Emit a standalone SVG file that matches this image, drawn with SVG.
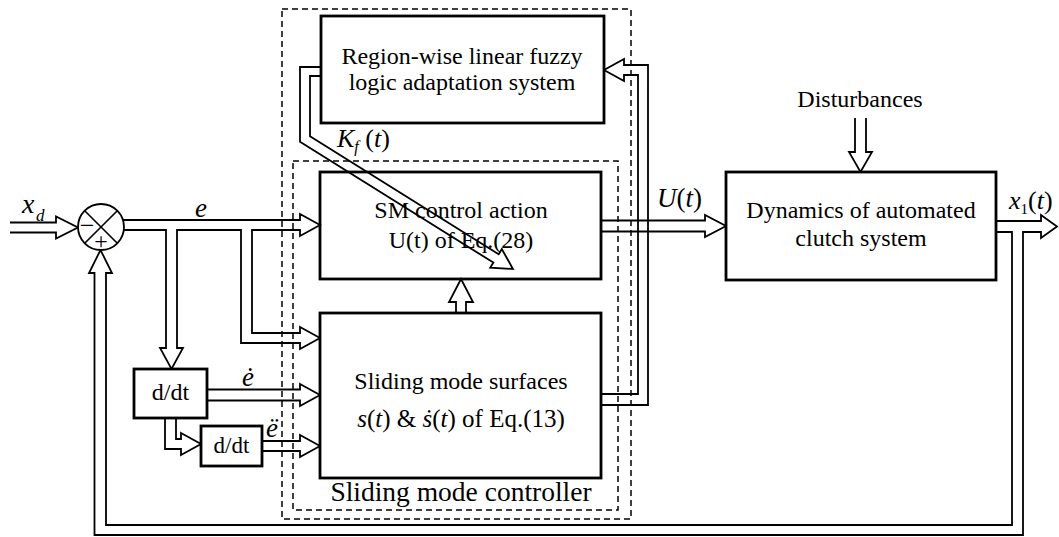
<svg xmlns="http://www.w3.org/2000/svg" width="1059" height="537" viewBox="0 0 1059 537">
  <style>
    .blk { fill: #fff; stroke: #000; stroke-width: 2.8; }
    .grp { fill: none; stroke: #000; stroke-width: 1.5; stroke-dasharray: 6 4; }
    .wire { fill: none; stroke: #000; stroke-width: 1.8; stroke-linejoin: miter; }
    text { font-family: 'Liberation Serif', 'DejaVu Serif', serif; fill: #000; }
    .c { text-anchor: middle; }
    .i { font-style: italic; }
  </style>

  <!-- controller groupings -->
  <rect class="grp" x="282" y="9" width="349" height="510"/>
  <rect class="grp" x="293" y="161" width="325" height="349"/>
  <text class="c" x="461" y="501" font-size="27.5">Sliding mode controller</text>

  <!-- connectors -->
  <g id="connectors">
    <!-- reference input x_d -->
    <path class="wire" d="M10,222.5 H56 V216.5 L78,227.5 L56,238.5 V232.5 H10"/>
    <!-- error e with branches to d/dt and sliding surfaces -->
    <path class="wire" d="M122.9,220 H300 V214 L320,225 L300,236 V230 H252 V333 H300 V327 L320,338 L300,349 V343 H241 V230 H177 V348 H183 L171.5,369 L160,348 H166 V230 H123.8"/>
    <!-- e-dot -->
    <path class="wire" d="M207,389.5 H300 V384 L320,395 L300,406 V400.5 H207"/>
    <!-- e-double-dot -->
    <path class="wire" d="M262,441 H300 V435 L320,446 L300,457 V451 H262"/>
    <!-- d/dt to d/dt -->
    <path class="wire" d="M165,418 V449 H181 V455 L201,444 L181,433 V439 H176 V418"/>
    <!-- surfaces to control action -->
    <path class="wire" d="M456,313 V302 H449 L461,279 L473,302 H466 V313"/>
    <!-- surfaces to fuzzy adaptation -->
    <path class="wire" d="M601,405 H648 V65 H624 V59 L604,70 L624,81 V75 H638 V394 H601"/>
    <!-- gain K_f(t) -->
    <path class="wire" d="M321,67 H300 V141.7 L493.4,262.6 L490.2,267.7 L513,269 L501.8,249.1 L498.7,254.2 L310,136.3 V76 H321"/>
    <!-- control U(t) -->
    <path class="wire" d="M601,220.5 H705 V215 L726,226 L705,237 V231.5 H601"/>
    <!-- disturbances -->
    <path class="wire" d="M855,118 V152 H849 L860.5,172 L872,152 H866 V118"/>
    <!-- output x_1(t) and feedback loop -->
    <path class="wire" d="M996,221 H1041 V215 L1057,226.5 L1041,238 V232 H1023 V535 H94.5 V273 H89 L100.5,250 L112,273 H106 V525 H1012 V232 H996"/>
  </g>

  <!-- summing junction -->
  <g id="sum">
    <circle cx="101" cy="227" r="23" fill="#fff" stroke="#000" stroke-width="1.8"/>
    <path d="M84.7,210.7 L117.3,243.3 M117.3,210.7 L84.7,243.3" stroke="#000" stroke-width="1.6" fill="none"/>
    <text class="c" x="87" y="234" font-size="26">−</text>
    <text class="c" x="101" y="249" font-size="24">+</text>
  </g>

  <g id="fuzzy">
    <rect class="blk" x="321" y="16" width="283" height="107"/>
    <text class="c" x="462" y="64" font-size="24">Region-wise linear fuzzy</text>
    <text class="c" x="462" y="90" font-size="24">logic adaptation system</text>
  </g>

  <g id="sm-control">
    <rect class="blk" x="320" y="172" width="281" height="107" fill-opacity="0"/>
    <text class="c" x="461" y="218" font-size="24">SM control action</text>
    <text class="c" x="461" y="248" font-size="24">U(t) of Eq.(28)</text>
  </g>

  <g id="surfaces">
    <rect class="blk" x="320" y="313" width="281" height="165"/>
    <text class="c" x="461" y="389" font-size="24">Sliding mode surfaces</text>
    <text class="c" x="461" y="427" font-size="25"><tspan class="i">s</tspan>(<tspan class="i">t</tspan>) &amp; <tspan class="i">ṡ</tspan>(<tspan class="i">t</tspan>) of  Eq.(13)</text>
  </g>

  <g id="plant">
    <rect class="blk" x="726" y="172" width="270" height="108"/>
    <text class="c" x="861" y="218" font-size="24">Dynamics of automated</text>
    <text class="c" x="861" y="246" font-size="24">clutch system</text>
  </g>

  <g id="ddt1">
    <rect class="blk" x="134" y="369" width="73" height="49"/>
    <text class="c" x="170.5" y="400" font-size="24">d/dt</text>
  </g>

  <g id="ddt2">
    <rect class="blk" x="201" y="426" width="61" height="40"/>
    <text class="c" x="231.5" y="453" font-size="23">d/dt</text>
  </g>

  <!-- signal labels -->
  <g id="labels">
    <text class="c" x="860" y="107" font-size="24">Disturbances</text>
    <text class="i" x="22" y="213" font-size="28">x</text>
    <text class="i" x="36" y="221" font-size="17">d</text>
    <text class="i" x="195" y="217" font-size="27">e</text>
    <text class="i" x="242" y="386" font-size="27">ė</text>
    <text class="i" x="266" y="437" font-size="27">ë</text>
    <text x="337" y="147" font-size="26"><tspan class="i">K</tspan><tspan class="i" font-size="16" dy="5">f</tspan><tspan dy="-5"> (</tspan><tspan class="i">t</tspan>)</text>
    <text x="657" y="207" font-size="27"><tspan class="i">U</tspan>(<tspan class="i">t</tspan>)</text>
    <text x="1009" y="209" font-size="26"><tspan class="i">x</tspan><tspan font-size="15" dy="5">1</tspan><tspan dy="-5">(</tspan><tspan class="i">t</tspan>)</text>
  </g>
</svg>
